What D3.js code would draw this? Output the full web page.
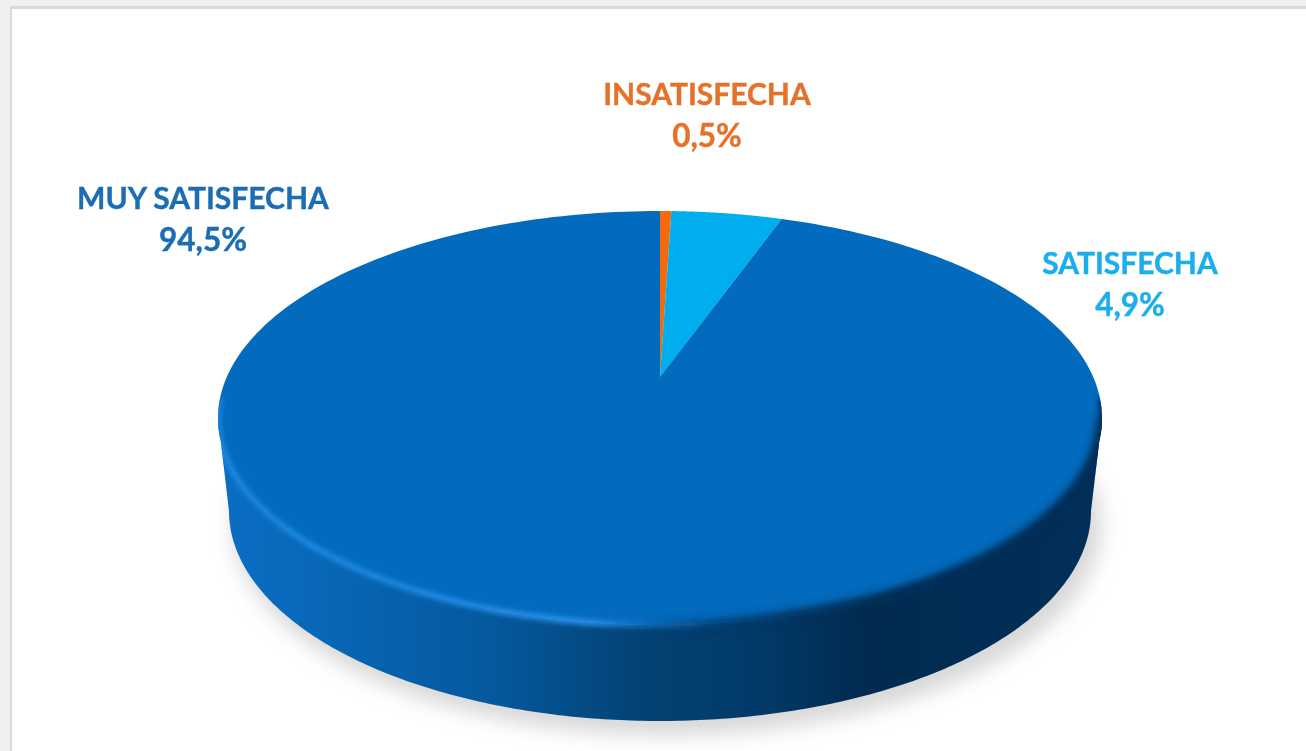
<!DOCTYPE html>
<html>
<head>
<meta charset="utf-8">
<script src="https://cdn.jsdelivr.net/npm/d3@7"></script>
<style>
html,body{margin:0;padding:0;background:#f0f0f0;overflow:hidden}
svg{display:block}
text{font-family:Lato,"Open Sans",sans-serif;font-weight:700;text-anchor:middle}
</style>
</head>
<body>
<svg id="c" width="1306" height="751"></svg>
<script>
const categories = ["INSATISFECHA", "SATISFECHA", "MUY SATISFECHA"];
const values = [0.5, 4.9, 94.5];
const valueLabels = ["0,5%", "4,9%", "94,5%"];
const sliceColors = ["#f46a0c", "#00aeef", "#026bbd"];
const textColors = ["#e5722a", "#1eaeea", "#1a6db3"];
const labelX = [707, 1130, 203];
const labelY = [105, 274, 209];

const svg = d3.select("#c");
const defs = svg.append("defs");

const blur = (id, s) => defs.append("filter").attr("id", id)
  .attr("x", "-20%").attr("y", "-20%").attr("width", "140%").attr("height", "140%")
  .append("feGaussianBlur").attr("stdDeviation", s);
blur("shadowBlur", 10);
blur("rimBlur", 2.6);
blur("softBlur", 4.5);
blur("textBlur", 0.5);

const grad = (id, stops) => {
  const g = defs.append("linearGradient").attr("id", id)
    .attr("gradientUnits", "userSpaceOnUse")
    .attr("x1", 218).attr("x2", 1102).attr("y1", 0).attr("y2", 0);
  stops.forEach(s => g.append("stop").attr("offset", (s[0] - 218) / 884)
    .attr("stop-color", s[1]).attr("stop-opacity", s[2] === undefined ? 1 : s[2]));
};
grad("sideGrad", [[218, "#0a6ec4"], [330, "#0866b6"], [500, "#05589c"], [640, "#024274"], [760, "#023a68"], [860, "#012b50"], [1102, "#012f58"]]);
grad("rimGrad", [[218, "#1a86de"], [400, "#1f8ae4"], [590, "#2b92ec"], [650, "#0f66b2"], [720, "#02447c"], [860, "#012f58"], [1102, "#012f58"]]);
grad("softGrad", [[218, "#012f58", 0], [640, "#012f58", 0], [800, "#012f58", 0.75], [1102, "#012f58", 0.9]]);

// panel
svg.append("rect").attr("x", 10).attr("y", 6).attr("width", 1296).attr("height", 745).attr("fill", "#d9d9d9");
svg.append("rect").attr("x", 12).attr("y", 9).attr("width", 1294).attr("height", 742).attr("fill", "#ffffff");

// scales of the pie disc on screen
const topX = d3.scaleLinear().domain([-1, 1]).range([218, 1102]);
const topY = d3.scaleLinear().domain([-1, 1]).range([625, 211]);
const botX = d3.scaleLinear().domain([-1, 1]).range([229, 1091]);
const botY = d3.scaleLinear().domain([-1, 1]).range([721, 301]);
const shadowX = d3.scaleLinear().domain([-1, 1]).range([233, 1101]);
const shadowY = d3.scaleLinear().domain([-1, 1]).range([735, 315]);
const tilt = topY.invert(377);

// disc angle (clockwise from top) -> perspective-corrected unit ellipse point
const persp = a => {
  const u = Math.sin(a), v = Math.cos(a), d = 1 + tilt * v;
  return [u * Math.sqrt(1 - tilt * tilt) / d, (v + tilt) / d];
};
const STEPS = d3.range(0, 241);
const rimPts = (a0, a1) => STEPS.map(i => persp(a0 + (a1 - a0) * i / 240));
const line = (sx, sy) => d3.line().x(d => sx(d[0])).y(d => sy(d[1]));
const topLine = line(topX, topY), botLine = line(botX, botY);
const ellArc = (t0, t1) => STEPS.map(i => { const t = t0 + (t1 - t0) * i / 240; return [Math.cos(t), Math.sin(t)]; });
const lowerHalf = ellArc(Math.PI, 2 * Math.PI);
const fullEll = ellArc(0, 2 * Math.PI);

// shadow
svg.append("path").attr("d", line(shadowX, shadowY)(fullEll) + "Z")
  .attr("fill", "#b0b0b0").attr("opacity", 0.5).attr("filter", "url(#shadowBlur)");

// side wall
const sidePath = topLine(lowerHalf) + botLine(lowerHalf.slice().reverse()).replace(/^M/, "L") + "Z";
svg.append("path").attr("d", sidePath).attr("fill", "url(#sideGrad)");

// top face slices
const pie = d3.pie().sort(null).value(d => d)(values);
svg.append("g").selectAll("path").data(pie).join("path")
  .attr("d", d => {
    const end = d.index === pie.length - 1 ? 2 * Math.PI : d.endAngle;
    return "M" + [topX(0), topY(tilt)] + topLine(rimPts(d.startAngle, end)).replace(/^M/, "L") + "Z";
  })
  .attr("fill", (d, i) => sliceColors[i]);

// bevel rim
defs.append("clipPath").attr("id", "hullClip").append("path").attr("d", sidePath + topLine(fullEll) + "Z");
const rimG = svg.append("g").attr("clip-path", "url(#hullClip)");
rimG.append("path").attr("d", topLine(ellArc(Math.PI * 1.5, Math.PI * 2.0))).attr("fill", "none")
  .attr("stroke", "url(#softGrad)").attr("stroke-width", 12).attr("filter", "url(#softBlur)");
rimG.append("path").attr("d", topLine(ellArc(Math.PI * 0.97, Math.PI * 2.03))).attr("fill", "none")
  .attr("stroke", "url(#rimGrad)").attr("stroke-width", 6).attr("filter", "url(#rimBlur)");

// labels
const lab = svg.append("g").attr("filter", "url(#textBlur)");
categories.forEach((c, i) => {
  [c, valueLabels[i]].forEach((t, j) => {
    lab.append("text").attr("x", labelX[i]).attr("y", labelY[i] + j * 42)
      .attr("font-size", j ? 31.5 : 30).attr("fill", textColors[i])
      .attr("stroke", textColors[i]).attr("stroke-width", 0.4).text(t);
  });
});
</script>
</body>
</html>
